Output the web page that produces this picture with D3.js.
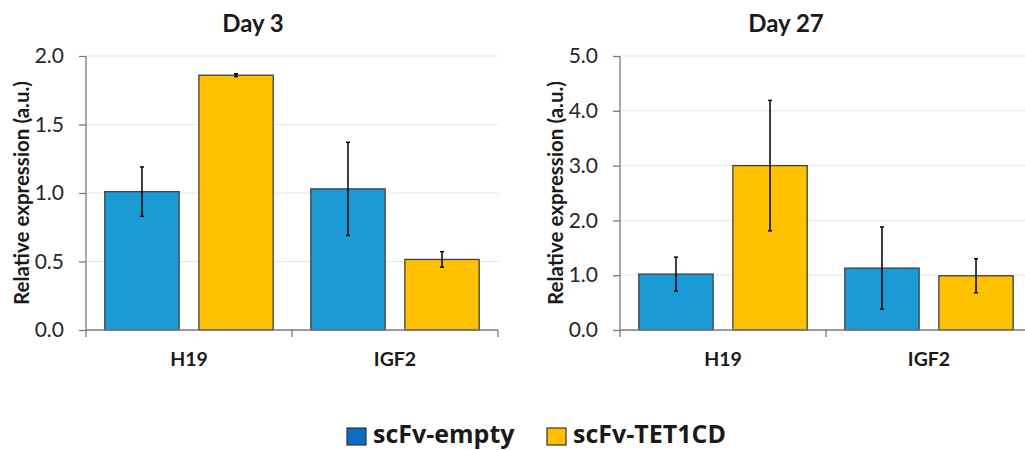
<!DOCTYPE html>
<html>
<head>
<meta charset="utf-8">
<script src="https://cdn.jsdelivr.net/npm/d3@7"></script>
<style>
  body { margin: 0; background: #fff; }
  svg { display: block; font-family: Lato, "Open Sans", sans-serif; }
</style>
</head>
<body>
<svg id="chart" width="1025" height="450"></svg>
<script>
// data
const categories = ["H19", "IGF2"];
const series = ["scFv-empty", "scFv-TET1CD"];
const colors = ["#1a9bd6", "#ffc000"];
const legendColors = ["#0a6fc3", "#ffc000"];

const day3Empty = [1.01, 1.03];
const day3EmptyErr = [0.18, 0.34];
const day3Tet = [1.86, 0.515];
const day3TetErr = [0.01, 0.057];
const day3Ticks = [0, 0.5, 1.0, 1.5, 2.0];

const day27Empty = [1.02, 1.13];
const day27EmptyErr = [0.31, 0.75];
const day27Tet = [3.0, 0.99];
const day27TetErr = [1.19, 0.31];
const day27Ticks = [0, 1, 2, 3, 4, 5];

const svg = d3.select("#chart");

function panel(opts) {
  const { x0, x1, top, bottom, title, titleX, ticks, vals, errs } = opts;
  const g = svg.append("g");

  const x = d3.scaleBand().domain(categories).range([x0, x1]);
  const xs = d3.scaleBand().domain(series).range([0, x.bandwidth()])
    .paddingInner(0.21).paddingOuter(0.2);
  const y = d3.scaleLinear().domain([0, d3.max(ticks)]).range([bottom, top]);

  // gridlines
  g.selectAll(".grid").data(ticks.slice(1)).enter().append("line")
    .attr("x1", x0).attr("x2", x1)
    .attr("y1", d => y(d)).attr("y2", d => y(d))
    .attr("stroke", "#e6e6e6").attr("stroke-width", 1);

  // y axis
  const ya = g.append("g").attr("transform", `translate(${x0},0)`)
    .call(d3.axisLeft(y).tickValues(ticks).tickFormat(d3.format(".1f")).tickSize(7).tickPadding(15));
  ya.selectAll("path, line").attr("stroke", "#7a7a7a").attr("stroke-width", 1.3);
  ya.select(".domain").attr("d", `M0,${top}V${bottom}`);
  ya.selectAll("text").attr("font-size", 21).attr("fill", "#262626")
    .attr("font-family", "Lato");

  // bars
  const rows = series.map((s, i) => categories.map((c, j) => ({
    s, c, i, v: vals[i][j], e: errs[i][j]
  })));
  const flat = rows.flat();

  g.selectAll(".bar").data(flat).enter().append("rect")
    .attr("x", d => x(d.c) + xs(d.s))
    .attr("y", d => y(d.v))
    .attr("width", xs.bandwidth())
    .attr("height", d => y(0) - y(d.v))
    .attr("fill", d => colors[d.i])
    .attr("stroke", "#404040").attr("stroke-width", 1.3);

  // error bars
  const cx = d => x(d.c) + xs(d.s) + xs.bandwidth() / 2;
  g.selectAll(".err").data(flat).enter().append("line")
    .attr("x1", cx).attr("x2", cx)
    .attr("y1", d => y(d.v + d.e)).attr("y2", d => y(d.v - d.e))
    .attr("stroke", "#000").attr("stroke-width", 1.5);
  ["+", "-"].forEach(sgn => {
    g.selectAll(".cap" + (sgn === "+" ? "t" : "b")).data(flat).enter().append("line")
      .attr("x1", d => cx(d) - 2).attr("x2", d => cx(d) + 2)
      .attr("y1", d => y(sgn === "+" ? d.v + d.e : d.v - d.e))
      .attr("y2", d => y(sgn === "+" ? d.v + d.e : d.v - d.e))
      .attr("stroke", "#000").attr("stroke-width", 1.5);
  });

  // x axis
  g.append("line").attr("x1", x0).attr("x2", x1)
    .attr("y1", y(0)).attr("y2", y(0))
    .attr("stroke", "#7a7a7a").attr("stroke-width", 1.3);
  const edges = [x0].concat(categories.map(c => x(c) + x.bandwidth()));
  g.selectAll(".xt").data(edges).enter().append("line")
    .attr("x1", d => d).attr("x2", d => d)
    .attr("y1", y(0)).attr("y2", y(0) + 7)
    .attr("stroke", "#7a7a7a").attr("stroke-width", 1.3);
  g.selectAll(".xl").data(categories).enter().append("text")
    .attr("x", d => x(d) + x.bandwidth() / 2)
    .attr("y", 366)
    .attr("text-anchor", "middle")
    .attr("font-size", 19.5).attr("font-weight", "bold").attr("fill", "#1a1a1a")
    .text(d => d);

  // y label
  g.append("text")
    .attr("transform", `translate(${x0 - 57},${(top + bottom) / 2}) rotate(-90)`)
    .attr("text-anchor", "middle")
    .attr("font-size", 20.5).attr("font-weight", "bold").attr("fill", "#1a1a1a")
    .text("Relative expression (a.u.)");

  // title
  g.append("text")
    .attr("x", titleX).attr("y", 32)
    .attr("text-anchor", "middle")
    .attr("font-size", 24).attr("font-weight", "bold").attr("fill", "#1a1a1a")
    .text(title);
}

panel({
  x0: 86, x1: 498, top: 56, bottom: 330,
  title: "Day 3", titleX: 253, ticks: day3Ticks,
  vals: [day3Empty, day3Tet], errs: [day3EmptyErr, day3TetErr]
});
panel({
  x0: 620, x1: 1032, top: 56, bottom: 330,
  title: "Day 27", titleX: 786, ticks: day27Ticks,
  vals: [day27Empty, day27Tet], errs: [day27EmptyErr, day27TetErr]
});

// legend
const legendX = [347, 547];
const lg = svg.append("g");
series.forEach((s, i) => {
  lg.append("rect")
    .attr("x", legendX[i]).attr("y", 428)
    .attr("width", 19).attr("height", 17)
    .attr("fill", legendColors[i]).attr("stroke", "#333").attr("stroke-width", 1.2);
  lg.append("text")
    .attr("x", legendX[i] + 26).attr("y", 443)
    .attr("font-size", 25).attr("font-weight", "bold")
    .attr("font-family", "'Open Sans', Lato, sans-serif")
    .attr("fill", "#1a1a1a")
    .text(s);
});
</script>
</body>
</html>
